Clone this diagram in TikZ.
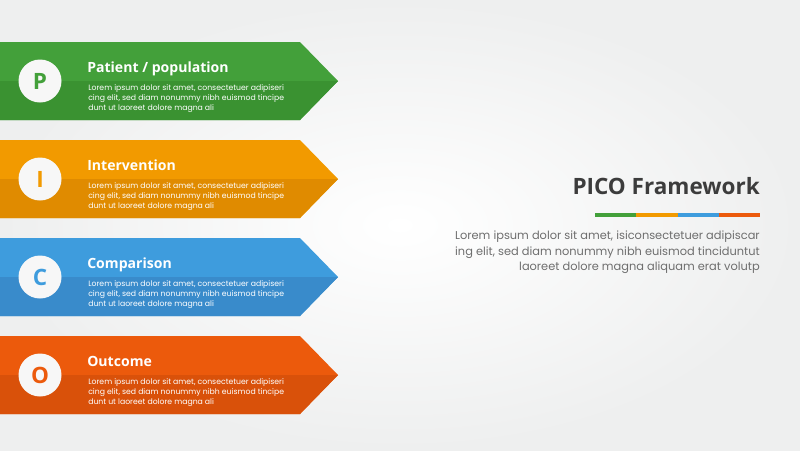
\documentclass[tikz,border=0pt]{standalone}
\usepackage{fontspec}
\setmainfont{Poppins}
\newfontfamily\headfont{Open Sans}
\usepackage{tikz}

\definecolor{bgedge}{HTML}{EEEFEF}
\definecolor{pcol}{HTML}{43A03A}
\definecolor{pdark}{HTML}{3A9231}
\definecolor{icol}{HTML}{F29A00}
\definecolor{idark}{HTML}{E08B00}
\definecolor{ccol}{HTML}{3E9CDD}
\definecolor{cdark}{HTML}{398BCB}
\definecolor{ocol}{HTML}{EC5A0C}
\definecolor{odark}{HTML}{D9510A}
\definecolor{textgray}{HTML}{3C3C3C}
\definecolor{paragray}{HTML}{6E6E6E}

\tikzset{
  lettercircle/.style={circle, fill=white!94!gray, minimum size=43\unitlength, inner sep=0pt,
    font=\headfont\bfseries\fontsize{16}{16}\selectfont},
  bannertitle/.style={anchor=base west, inner sep=0pt, text=white,
    font=\headfont\bfseries\fontsize{10}{12}\selectfont},
  bannertext/.style={anchor=north west, inner sep=0pt, text=white, align=left,
    font=\fontsize{5.5}{7.1}\selectfont},
}
\setlength{\unitlength}{0.025cm}

\begin{document}
\begin{tikzpicture}[x=0.025cm, y=-0.025cm]
\useasboundingbox (0,0) rectangle (800,450);
\shade[inner color=white, outer color=bgedge] (0,0) rectangle (800,450);

\foreach \name/\ytop/\letter/\title/\col/\dark in {
    p/42/P/{Patient / population}/pcol/pdark,
    i/140/I/Intervention/icol/idark,
    c/238/C/Comparison/ccol/cdark,
    o/336/O/Outcome/ocol/odark}{
  \fill[\col] (0,\ytop) -- (300,\ytop) -- (338,\ytop+39) -- (300,\ytop+78) -- (0,\ytop+78) -- cycle;
  \fill[\dark] (0,\ytop+39) -- (338,\ytop+39) -- (300,\ytop+78) -- (0,\ytop+78) -- cycle;
  \node[lettercircle, text=\col] (\name circle) at (40,\ytop+39) {\letter};
  \node[bannertitle] (\name title) at (87,\ytop+30) {\title};
  \node[bannertext] (\name text) at (88,\ytop+42) {Lorem ipsum dolor sit amet, consectetuer adipiseri\\
    cing elit, sed diam nonummy nibh euismod tincipe\\
    dunt ut laoreet dolore magna ali};
}

\node[anchor=base east, inner sep=0pt, text=textgray,
  font=\headfont\bfseries\fontsize{16}{18}\selectfont] (frame title) at (760,194) {PICO Framework};
\foreach \c [count=\k from 0] in {pcol,icol,ccol,ocol}
  \draw[\c, line width=2.2pt] (595+41.25*\k,215) -- (595+41.25*\k+41.25,215);
\node[anchor=north east, inner sep=0pt, text=paragray, align=right,
  font=\fontsize{8.1}{10.7}\selectfont] (frame text) at (760,231) {Lorem ipsum dolor sit amet, isiconsectetuer adipiscar\\
  ing elit, sed diam nonummy nibh euismod tinciduntut\\
  laoreet dolore magna aliquam erat volutp};
\end{tikzpicture}
\end{document}
